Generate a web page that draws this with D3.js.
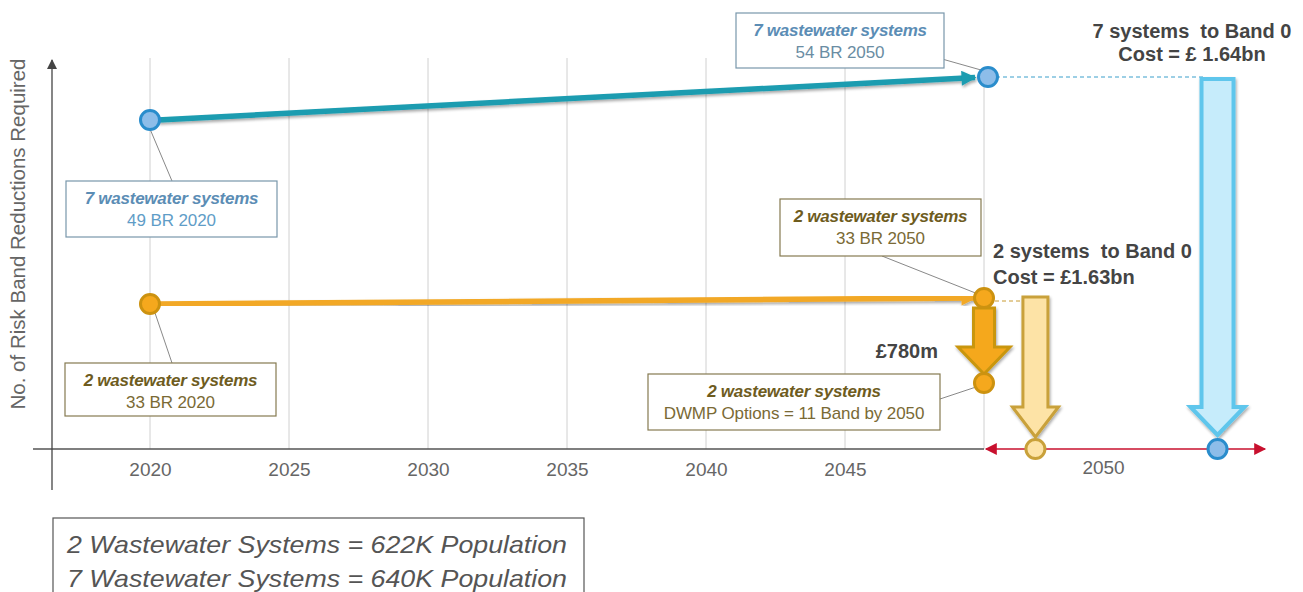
<!DOCTYPE html>
<html>
<head>
<meta charset="utf-8">
<script src="https://cdn.jsdelivr.net/npm/d3@7/dist/d3.min.js"></script>
<style>
  html, body { margin: 0; padding: 0; background: #fff; }
  svg { display: block; font-family: "Liberation Sans", Arial, sans-serif; }
  .pre { white-space: pre; }
</style>
</head>
<body>
<svg id="chart" width="1303" height="592"></svg>
<script>
// ---------------- data ----------------
const years = [2020, 2050];
const sevenSystemsBR = [49, 54];          // risk band reductions, 7 wastewater systems
const twoSystemsBR = [33, 33];            // risk band reductions, 2 wastewater systems
const twoSystemsDWMP = [11];              // after DWMP options by 2050
const band0 = [0];
const band0Columns = [2051.85, 2058.4];   // schematic post-2050 columns (2 systems, 7 systems)
const xTickYears = [2020, 2025, 2030, 2035, 2040, 2045];
const gridYears = [2020, 2025, 2030, 2035, 2040, 2045, 2050];
const post2050Label = "2050";
const post2050LabelPos = 2054.3;
const yAxisTitle = "No. of Risk Band Reductions Required";
const boxTitles = ["7 wastewater systems", "7 wastewater systems", "2 wastewater systems", "2 wastewater systems", "2 wastewater systems"];
const boxSubs = ["49 BR 2020", "54 BR 2050", "33 BR 2020", "33 BR 2050", "DWMP Options = 11 Band by 2050"];
const costSeven = ["7 systems  to Band 0", "Cost = £ 1.64bn"];
const costTwo = ["2 systems  to Band 0", "Cost = £1.63bn"];
const costDWMP = "£780m";
const populationNotes = ["2 Wastewater Systems = 622K Population", "7 Wastewater Systems = 640K Population"];

// ---------------- scales ----------------
const svg = d3.select("#chart");
const x = d3.scaleLinear().domain([2020, 2050]).range([150, 984]);
const y = d3.scaleLinear().domain([0, 11, 33, 49, 54]).range([449, 383, 301, 120, 77]);
const y0 = y(0);

const defs = svg.append("defs");
function marker(id, color, w, h) {
  defs.append("marker").attr("id", id).attr("viewBox", "0 0 10 10")
    .attr("refX", 9).attr("refY", 5).attr("markerWidth", w).attr("markerHeight", h)
    .attr("markerUnits", "userSpaceOnUse").attr("orient", "auto-start-reverse")
    .append("path").attr("d", "M0,0 L10,5 L0,10 Z").attr("fill", color);
}
marker("tealHead", "#1a9cb0", 17, 15);
marker("orangeHead", "#f2a825", 17, 15);
marker("redHead", "#c8102e", 14, 12);
marker("axisHead", "#444", 10, 10);
const f = defs.append("filter").attr("id", "shadow").attr("x", "-20%").attr("y", "-20%").attr("width", "140%").attr("height", "140%");
f.append("feGaussianBlur").attr("in", "SourceAlpha").attr("stdDeviation", 1.5);
f.append("feOffset").attr("dx", 1).attr("dy", 1.5).attr("result", "o");
f.append("feComponentTransfer").append("feFuncA").attr("type", "linear").attr("slope", 0.35);
const fm = f.append("feMerge"); fm.append("feMergeNode"); fm.append("feMergeNode").attr("in", "SourceGraphic");

// ---------------- grid ----------------
svg.append("g").selectAll("line").data(gridYears).join("line")
  .attr("x1", d => x(d)).attr("x2", d => x(d))
  .attr("y1", d => d === 2050 ? 86 : 58).attr("y2", y0)
  .attr("stroke", "#d0d0d0").attr("stroke-width", 1);

// ---------------- axes ----------------
svg.append("line").attr("x1", 33).attr("x2", x(2050)).attr("y1", y0).attr("y2", y0)
  .attr("stroke", "#555").attr("stroke-width", 1.3);
svg.append("line").attr("x1", 52).attr("x2", 52).attr("y1", 490).attr("y2", 60)
  .attr("stroke", "#444").attr("stroke-width", 1.3).attr("marker-end", "url(#axisHead)");

const xAxis = d3.axisBottom(x).tickValues(xTickYears).tickFormat(d3.format("d")).tickSize(0).tickPadding(14);
const gx = svg.append("g").attr("transform", `translate(0,${y0})`).call(xAxis);
gx.select(".domain").remove();
gx.selectAll("text").attr("font-size", 19).attr("fill", "#666").attr("font-family", "Liberation Sans, Arial, sans-serif");

svg.append("text").attr("x", x(post2050LabelPos)).attr("y", 474).attr("text-anchor", "middle")
  .attr("font-size", 19).attr("fill", "#666").text(post2050Label);

svg.append("text").attr("transform", "translate(25,234) rotate(-90)").attr("text-anchor", "middle")
  .attr("font-size", 20.5).attr("fill", "#666").text(yAxisTitle);

// red double arrow
svg.append("line").attr("x1", x(2050) + 2).attr("x2", 1265).attr("y1", y0).attr("y2", y0)
  .attr("stroke", "#c8102e").attr("stroke-width", 1.5)
  .attr("marker-start", "url(#redHead)").attr("marker-end", "url(#redHead)");

// ---------------- connectors for labels ----------------
const conn = svg.append("g").attr("stroke", "#7a7a7a").attr("stroke-width", 0.9);
conn.append("line").attr("x1", x(2020)).attr("y1", y(sevenSystemsBR[0]) + 9).attr("x2", 172).attr("y2", 181);
conn.append("line").attr("x1", 935).attr("y1", 57).attr("x2", x(2050) - 3).attr("y2", y(sevenSystemsBR[1]) - 7);
conn.append("line").attr("x1", x(2020) + 4).attr("y1", y(twoSystemsBR[0]) + 9).attr("x2", 172).attr("y2", 363);
conn.append("line").attr("x1", 882).attr("y1", 256).attr("x2", x(2050) - 6).attr("y2", y(twoSystemsBR[1]) - 7);
conn.append("line").attr("x1", 940).attr("y1", 399).attr("x2", x(2050) - 8).attr("y2", y(twoSystemsDWMP[0]) + 4);

// ---------------- trend arrows ----------------
svg.append("line").attr("x1", x(years[0]) + 8).attr("y1", y(sevenSystemsBR[0]))
  .attr("x2", x(years[1]) - 9).attr("y2", y(sevenSystemsBR[1]) + 0.5)
  .attr("stroke", "#1a9cb0").attr("stroke-width", 5.5).attr("marker-end", "url(#tealHead)")
  .attr("filter", "url(#shadow)");
svg.append("line").attr("x1", x(years[0]) + 8).attr("y1", y(twoSystemsBR[0]) + 3)
  .attr("x2", x(years[1]) - 9).attr("y2", y(twoSystemsBR[1]) - 3)
  .attr("stroke", "#f2a825").attr("stroke-width", 5.5).attr("marker-end", "url(#orangeHead)")
  .attr("filter", "url(#shadow)");

// dashed guides
svg.append("line").attr("x1", x(2050) + 12).attr("x2", x(band0Columns[1]) - 14)
  .attr("y1", y(sevenSystemsBR[1])).attr("y2", y(sevenSystemsBR[1]))
  .attr("stroke", "#3a9fcb").attr("stroke-width", 1).attr("stroke-dasharray", "4,3");
svg.append("line").attr("x1", x(2050) + 11).attr("x2", x(band0Columns[0]) - 13)
  .attr("y1", y(twoSystemsBR[1])).attr("y2", y(twoSystemsBR[1]))
  .attr("stroke", "#c89a30").attr("stroke-width", 1).attr("stroke-dasharray", "4,3");

// ---------------- block arrows ----------------
function blockArrow(cx, top, tip, shaftW, headW, headH) {
  const hs = shaftW / 2, hh = headW / 2, hb = tip - headH;
  return `M${cx - hs},${top} L${cx + hs},${top} L${cx + hs},${hb} L${cx + hh},${hb} L${cx},${tip} L${cx - hh},${hb} L${cx - hs},${hb} Z`;
}
// 7 systems to band 0
svg.append("path").attr("d", blockArrow(x(band0Columns[1]), y(sevenSystemsBR[1]) + 2, y(band0[0]) - 14, 32, 54, 28))
  .attr("fill", "#c6ecfb").attr("stroke", "#5ec6ec").attr("stroke-width", 4).attr("stroke-linejoin", "miter")
  .attr("filter", "url(#shadow)");
// 2 systems to band 0
svg.append("path").attr("d", blockArrow(x(band0Columns[0]), y(twoSystemsBR[1]) - 4, y(band0[0]) - 12, 25, 46, 30))
  .attr("fill", "#fde3a6").attr("stroke", "#c9a13a").attr("stroke-width", 3)
  .attr("filter", "url(#shadow)");
// DWMP £780m
svg.append("path").attr("d", blockArrow(x(2050), y(twoSystemsBR[1]) + 7, y(twoSystemsDWMP[0]) - 9, 21, 52, 27))
  .attr("fill", "#f5a81d").attr("stroke", "#c9960f").attr("stroke-width", 3)
  .attr("filter", "url(#shadow)");

// ---------------- points ----------------
const blue = { fill: "#8dbde9", stroke: "#2a8dcc" };
const orange = { fill: "#f5a81d", stroke: "#cc9210" };
const lightOrange = { fill: "#fde3a6", stroke: "#c9a13a" };
const pts = [
  { x: x(years[0]), y: y(sevenSystemsBR[0]), c: blue },
  { x: x(years[1]) + 4, y: y(sevenSystemsBR[1]), c: blue },
  { x: x(years[0]), y: y(twoSystemsBR[0]) + 3, c: orange },
  { x: x(years[1]), y: y(twoSystemsBR[1]) - 3, c: orange },
  { x: x(years[1]), y: y(twoSystemsDWMP[0]), c: orange },
  { x: x(band0Columns[0]), y: y(band0[0]), c: lightOrange },
  { x: x(band0Columns[1]), y: y(band0[0]), c: blue }
];
svg.append("g").selectAll("circle").data(pts).join("circle")
  .attr("cx", d => d.x).attr("cy", d => d.y).attr("r", 9.5)
  .attr("fill", d => d.c.fill).attr("stroke", d => d.c.stroke).attr("stroke-width", 3);

// ---------------- label boxes ----------------
const boxes = [
  { x: 66, y: 181, w: 211, h: 56, tc: "#5b8db5", sc: "#5f9dc7", bc: "#7897ab" },
  { x: 736, y: 13, w: 208, h: 55, tc: "#5b8db5", sc: "#6a8da3", bc: "#7897ab" },
  { x: 65, y: 363, w: 211, h: 53, tc: "#6e5c1e", sc: "#7a6a35", bc: "#857a50" },
  { x: 780, y: 199, w: 201, h: 57, tc: "#6e5c1e", sc: "#7a6a35", bc: "#857a50" },
  { x: 648, y: 374, w: 292, h: 56, tc: "#6e5c1e", sc: "#7a6a35", bc: "#857a50" }
];
const bg = svg.append("g").selectAll("g").data(boxes).join("g");
bg.append("rect").attr("x", d => d.x).attr("y", d => d.y).attr("width", d => d.w).attr("height", d => d.h)
  .attr("fill", "#fff").attr("stroke", d => d.bc).attr("stroke-width", 1.2);
bg.append("text").attr("x", d => d.x + d.w / 2).attr("y", d => d.y + 23).attr("text-anchor", "middle")
  .attr("font-size", 17).attr("font-weight", "bold").attr("font-style", "italic").attr("letter-spacing", -0.25)
  .attr("fill", d => d.tc).text((d, i) => boxTitles[i]);
bg.append("text").attr("x", d => d.x + d.w / 2).attr("y", d => d.y + 45).attr("text-anchor", "middle")
  .attr("font-size", 17).attr("letter-spacing", -0.1)
  .attr("fill", d => d.sc).text((d, i) => boxSubs[i]);

// ---------------- cost labels ----------------
const costG = svg.append("g").attr("font-weight", "bold").attr("fill", "#444").attr("font-size", 20);
costG.selectAll("text.c7").data(costSeven).join("text").attr("class", "c7 pre")
  .attr("xml:space", "preserve")
  .attr("x", 1192).attr("y", (d, i) => 38 + i * 23).attr("text-anchor", "middle").text(d => d);
costG.selectAll("text.c2").data(costTwo).join("text").attr("class", "c2 pre")
  .attr("xml:space", "preserve")
  .attr("x", 993).attr("y", (d, i) => 258 + i * 26).attr("text-anchor", "start").text(d => d);
costG.append("text").attr("x", 938).attr("y", 358).attr("text-anchor", "end").text(costDWMP);

// ---------------- population box ----------------
svg.append("rect").attr("x", 53).attr("y", 518).attr("width", 531).attr("height", 90)
  .attr("fill", "#fff").attr("stroke", "#555").attr("stroke-width", 1.2);
svg.append("g").selectAll("text").data(populationNotes).join("text")
  .attr("x", 67).attr("y", (d, i) => 553 + i * 34)
  .attr("font-size", 24).attr("font-style", "italic").attr("fill", "#555")
  .attr("textLength", 500).attr("lengthAdjust", "spacingAndGlyphs")
  .text(d => d);
</script>
</body>
</html>
